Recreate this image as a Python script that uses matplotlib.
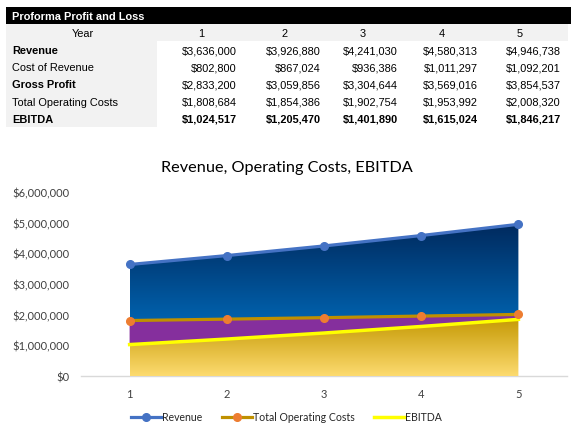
import numpy as np
import matplotlib
matplotlib.use("Agg")
import matplotlib.pyplot as plt
from matplotlib.patches import Rectangle, Polygon
from matplotlib.colors import LinearSegmentedColormap
from matplotlib.lines import Line2D
from matplotlib.ticker import FuncFormatter

# table data
years = [1, 2, 3, 4, 5]
row_labels = ["Revenue", "Cost of Revenue", "Gross Profit",
              "Total Operating Costs", "EBITDA"]
revenue = [3636000, 3926880, 4241030, 4580313, 4946738]
cost_of_revenue = [802800, 867024, 936386, 1011297, 1092201]
gross_profit = [2833200, 3059856, 3304644, 3569016, 3854537]
total_op_costs = [1808684, 1854386, 1902754, 1953992, 2008320]
ebitda = [1024517, 1205470, 1401890, 1615024, 1846217]
bold_labels = ["Revenue", "Gross Profit", "EBITDA"]
bold_values = ["EBITDA"]

TABLE_FONT = "Liberation Sans"
CHART_FONT = "Lato"
FS_TAB = 7.9

fig = plt.figure(figsize=(5.73, 4.39), dpi=100)

# ---- table, drawn in pixel coords on an overlay axes
tab = fig.add_axes([0, 0, 1, 1])
tab.set_xlim(0, 573)
tab.set_ylim(439, 0)
tab.axis("off")

row_h = 17.1
top = 8
tab.add_patch(Rectangle((6, top), 565, row_h, facecolor="black", edgecolor="none"))
tab.text(12, top + row_h / 2 + 0.5, "Proforma Profit and Loss", color="white",
         fontweight="bold", fontsize=FS_TAB, family=TABLE_FONT, va="center")
tab.add_patch(Rectangle((6, top + row_h), 562, row_h, facecolor="#f2f2f2", edgecolor="none"))
tab.add_patch(Rectangle((6, top + row_h), 151, row_h * 6, facecolor="#f2f2f2", edgecolor="none"))

col_right = [237, 321, 398, 478, 561]
col_center = [201, 285, 363, 442, 520]
y_year = top + row_h * 1.5 + 0.5
tab.text(83, y_year, "Year", fontsize=FS_TAB, family=TABLE_FONT, ha="center", va="center")
for cx, yr in zip(col_center, years):
    tab.text(cx, y_year, str(yr), fontsize=FS_TAB, family=TABLE_FONT, ha="center", va="center")

rows = [revenue, cost_of_revenue, gross_profit, total_op_costs, ebitda]
for i, (lab, vals) in enumerate(zip(row_labels, rows)):
    yy = top + row_h * (2.5 + i) + 0.5
    tab.text(12, yy, lab, fontsize=FS_TAB, family=TABLE_FONT, va="center",
             fontweight="bold" if lab in bold_labels else "normal")
    for cr, v in zip(col_right, vals):
        tab.text(cr, yy, "${:,}".format(v), fontsize=FS_TAB, family=TABLE_FONT,
                 ha="right", va="center",
                 fontweight="bold" if lab in bold_values else "normal")

# ---- chart
ax = fig.add_axes([81 / 573, 62 / 439, 486 / 573, 184 / 439])
x = np.array(years, dtype=float)
rev = np.array(revenue, dtype=float)
toc = np.array(total_op_costs, dtype=float)
ebd = np.array(ebitda, dtype=float)


def grad_fill(ax, x, y_top, y_bot, c_top, c_bot, vmin, vmax, z):
    verts = np.vstack([np.column_stack([x, y_top]),
                       np.column_stack([x[::-1], y_bot[::-1]])])
    poly = Polygon(verts, closed=True, facecolor="none", edgecolor="none")
    ax.add_patch(poly)
    cmap = LinearSegmentedColormap.from_list("g", [c_bot, c_top])
    grad = np.linspace(0, 1, 256).reshape(-1, 1)
    im = ax.imshow(grad, extent=[x[0], x[-1], vmin, vmax], origin="lower",
                   aspect="auto", cmap=cmap, zorder=z, interpolation="bilinear")
    im.set_clip_path(poly)


grad_fill(ax, x, rev, toc, "#002a5e", "#0062ae", 1.8e6, rev.max(), 1)
ax.fill_between(x, ebd, toc, facecolor="#852f9d", edgecolor="none", zorder=2)
grad_fill(ax, x, ebd, np.zeros_like(ebd), "#c69a05", "#fddb70", 0, ebd.max(), 3)

ax.plot(x, rev, color="#4472c4", lw=2.3, marker="o", ms=5.5,
        mfc="#4472c4", mec="#4472c4", zorder=6, clip_on=False)
ax.plot(x, toc, color="#bf9000", lw=2.3, marker="o", ms=5.5,
        mfc="#ed7d31", mec="#ed7d31", zorder=5, clip_on=False)
ax.plot(x, ebd, color="#ffff00", lw=2.5, zorder=4, clip_on=False)

ax.set_xlim(0.5, 5.5)
ax.set_ylim(0, 6e6)
ax.set_yticks(np.arange(0, 6.1e6, 1e6))
ax.set_xticks(years)
ax.yaxis.set_major_formatter(FuncFormatter(lambda v, p: "${:,.0f}".format(v)))
for s in ["top", "right", "left"]:
    ax.spines[s].set_visible(False)
ax.spines["bottom"].set_color("#d9d9d9")
ax.spines["bottom"].set_linewidth(1)
ax.tick_params(length=0, labelsize=8, labelcolor="#404040")
ax.tick_params(axis="y", pad=8)
ax.tick_params(axis="x", pad=9)
for t in ax.get_xticklabels() + ax.get_yticklabels():
    t.set_family(CHART_FONT)

fig.text(0.5, (439 - 168) / 439, "Revenue, Operating Costs, EBITDA",
         ha="center", va="center", fontsize=11.7, family=CHART_FONT, color="#000000")

handles = [
    Line2D([], [], color="#4472c4", lw=2.3, marker="o", ms=5.5, mfc="#4472c4", mec="#4472c4"),
    Line2D([], [], color="#bf9000", lw=2.3, marker="o", ms=5.5, mfc="#ed7d31", mec="#ed7d31"),
    Line2D([], [], color="#ffff00", lw=2.5),
]
leg = fig.legend(handles, ["Revenue", "Total Operating Costs", "EBITDA"],
                 loc="center", bbox_to_anchor=(0.5, 21 / 439), ncol=3,
                 frameon=False, handlelength=2.8, handletextpad=0.1,
                 columnspacing=1.9, prop={"family": CHART_FONT, "size": 7.6})
for t in leg.get_texts():
    t.set_color("#262626")

fig.savefig("out.png", dpi=100)
